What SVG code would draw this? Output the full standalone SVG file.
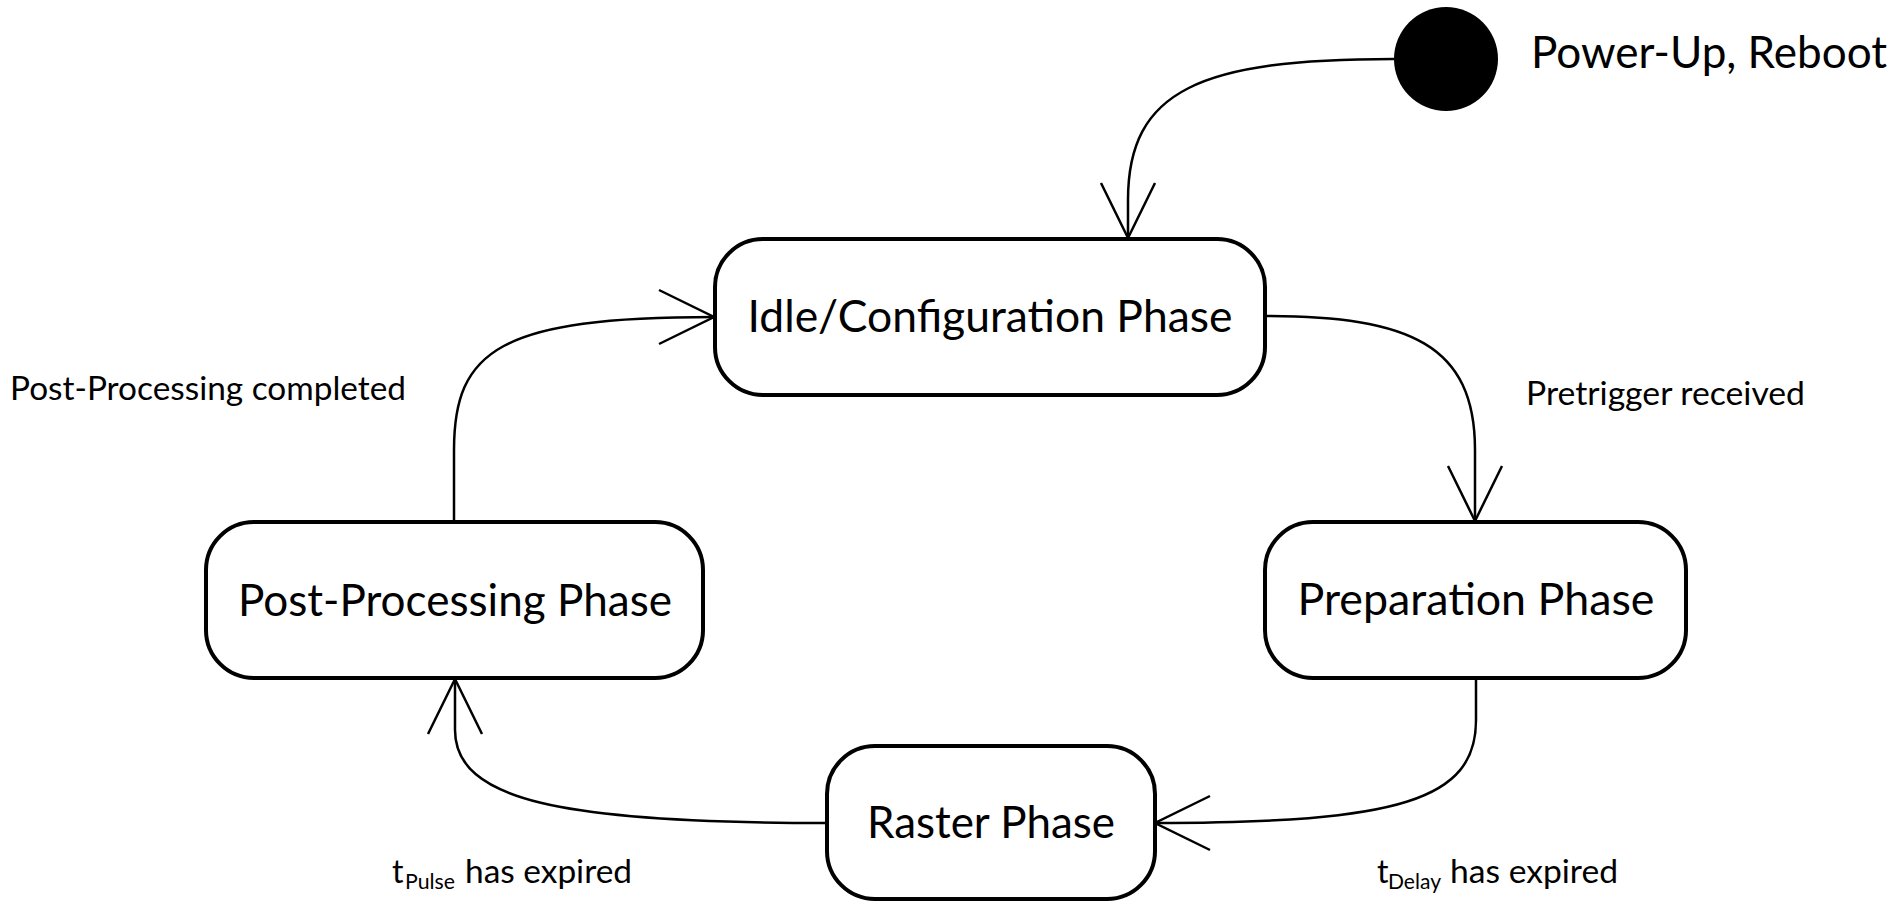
<svg xmlns="http://www.w3.org/2000/svg" width="1903" height="902" viewBox="0 0 1903 902">
<style>
.box{fill:#fff;stroke:#000;stroke-width:4}
.conn{fill:none;stroke:#000;stroke-width:2.5}
.lbl{font-family:Lato,"Open Sans","Liberation Sans",sans-serif;fill:#000}
.node{font-size:45px;text-anchor:middle}
.edge{font-size:32px}
</style>
<defs>
<marker id="arr" markerUnits="userSpaceOnUse" markerWidth="70" markerHeight="70" viewBox="-60 -35 70 70" refX="0" refY="0" orient="auto" overflow="visible">
<path d="M-55,-27 L0,0 L-55,27" fill="none" stroke="#000" stroke-width="2.5"/>
</marker>
</defs>
<rect width="1903" height="902" fill="#fff"/>
<g id="connectors">
<path class="conn" d="M1394,59 C1200,59 1128,90 1128,200 L1128,238" marker-end="url(#arr)"/>
<path class="conn" d="M1266,316 C1410,316 1475,345 1475,450 L1475,521" marker-end="url(#arr)"/>
<path class="conn" d="M1476,679 L1476,720 C1476,800 1400,823 1155,823" marker-end="url(#arr)"/>
<path class="conn" d="M826,823 C560,823 455,800 455,730 L455,679" marker-end="url(#arr)"/>
<path class="conn" d="M454,522 L454,450 C454,350 500,317 714,317" marker-end="url(#arr)"/>
</g>
<g id="start">
<circle cx="1446" cy="59" r="52" fill="#000"/>
<text class="lbl" x="1531" y="68" font-size="45" textLength="356" lengthAdjust="spacingAndGlyphs">Power-Up, Reboot</text>
</g>
<g id="idle">
<rect class="box" x="715" y="239" width="550" height="156" rx="48" ry="48"/>
<text class="lbl node" x="990" y="332" textLength="485" lengthAdjust="spacingAndGlyphs">Idle/Configuration Phase</text>
</g>
<g id="prep">
<rect class="box" x="1265" y="522" width="421" height="156" rx="48" ry="48"/>
<text class="lbl node" x="1476" y="615" textLength="357" lengthAdjust="spacingAndGlyphs">Preparation Phase</text>
</g>
<g id="raster">
<rect class="box" x="827" y="746" width="328" height="153" rx="48" ry="48"/>
<text class="lbl node" x="991" y="838" textLength="248" lengthAdjust="spacingAndGlyphs">Raster Phase</text>
</g>
<g id="postproc">
<rect class="box" x="206" y="522" width="497" height="156" rx="48" ry="48"/>
<text class="lbl node" x="455" y="616" textLength="434" lengthAdjust="spacingAndGlyphs">Post-Processing Phase</text>
</g>
<g id="labels">
<text class="lbl edge" x="1526" y="405" textLength="279" lengthAdjust="spacingAndGlyphs">Pretrigger received</text>
<text class="lbl edge" x="10" y="400" textLength="396" lengthAdjust="spacingAndGlyphs">Post-Processing completed</text>
<text class="lbl edge" y="883"><tspan x="392">t</tspan><tspan x="405" y="889" font-size="22" textLength="50" lengthAdjust="spacingAndGlyphs">Pulse</tspan><tspan x="465" y="883" textLength="167" lengthAdjust="spacingAndGlyphs">has expired</tspan></text>
<text class="lbl edge" y="883"><tspan x="1377">t</tspan><tspan x="1388" y="889" font-size="22" textLength="53" lengthAdjust="spacingAndGlyphs">Delay</tspan><tspan x="1450" y="883" textLength="168" lengthAdjust="spacingAndGlyphs">has expired</tspan></text>
</g>
</svg>
